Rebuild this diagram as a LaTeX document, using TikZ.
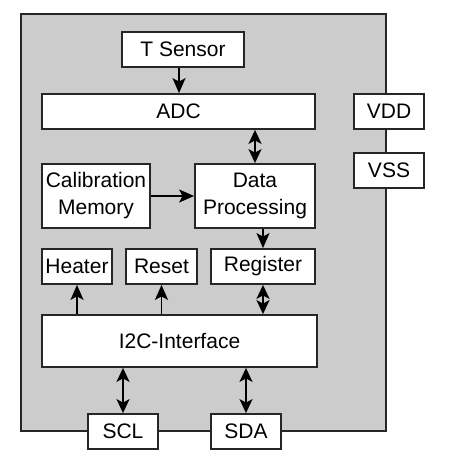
\documentclass[tikz,border=0pt]{standalone}
\usepackage{fontspec}
\setmainfont{Liberation Sans}
\usetikzlibrary{arrows.meta}
\definecolor{bggray}{HTML}{CCCCCC}
\definecolor{edge}{HTML}{262626}
\begin{document}
\begin{tikzpicture}[x=1pt,y=-1pt,
  box/.style={draw=edge,fill=white,line width=1.8pt,inner sep=0pt,
    font=\fontsize{21}{27}\selectfont,align=center},
  arr/.style={line width=1.8pt,draw=black,-{Stealth[length=15pt,width=13pt,inset=3.5pt]}},
  darr/.style={line width=1.8pt,draw=black,{Stealth[length=14pt,width=13pt,inset=3.5pt]}-{Stealth[length=14pt,width=13pt,inset=3.5pt]}}]
\useasboundingbox (0,0) rectangle (450,463);
\fill[white] (0,0) rectangle (450,463);
\draw[fill=bggray,draw=edge,line width=1.8pt] (21,14) rectangle (386,431);
\node[box,minimum width=122pt,minimum height=35pt] (tsensor) at (183,49.5) {T Sensor};
\node[box,minimum width=273pt,minimum height=35pt] (adc) at (178.5,111.5) {ADC};
\node[box,minimum width=70pt,minimum height=35pt] (vdd) at (389,111.5) {VDD};
\node[box,minimum width=70pt,minimum height=35pt] (vss) at (389,170.5) {VSS};
\node[box,minimum width=108pt,minimum height=64pt] (calib) at (96,196) {Calibration\\Memory};
\node[box,minimum width=120pt,minimum height=64pt] (dp) at (255,196) {Data\\Processing};
\node[box,minimum width=70pt,minimum height=35pt] (heater) at (77,266.5) {Heater};
\node[box,minimum width=71pt,minimum height=35pt] (reset) at (161.5,266.5) {Reset};
\node[box,minimum width=104pt,minimum height=35pt] (register) at (263,266.5) {Register};
\node[box,minimum width=275pt,minimum height=52pt] (i2c) at (179.5,341) {I2C-Interface};
\node[box,minimum width=70pt,minimum height=35pt] (scl) at (123,431.5) {SCL};
\node[box,minimum width=70pt,minimum height=35pt] (sda) at (246,431.5) {SDA};
\draw[arr] ([xshift=-4pt]tsensor.south) -- ([xshift=-4pt]tsensor.south |- adc.north);
\draw[darr] (dp.north |- adc.south) -- (dp.north);
\draw[arr] (calib.east) -- (calib.east -| dp.west);
\draw[arr] (register.north |- dp.south) -- (register.north);
\draw[darr] (register.south) -- (register.south |- i2c.north);
\draw[arr] (heater.south |- i2c.north) -- (heater.south);
\draw[arr] (reset.south |- i2c.north) -- (reset.south);
\draw[darr] (scl.north |- i2c.south) -- (scl.north);
\draw[darr] (sda.north |- i2c.south) -- (sda.north);
\end{tikzpicture}
\end{document}
